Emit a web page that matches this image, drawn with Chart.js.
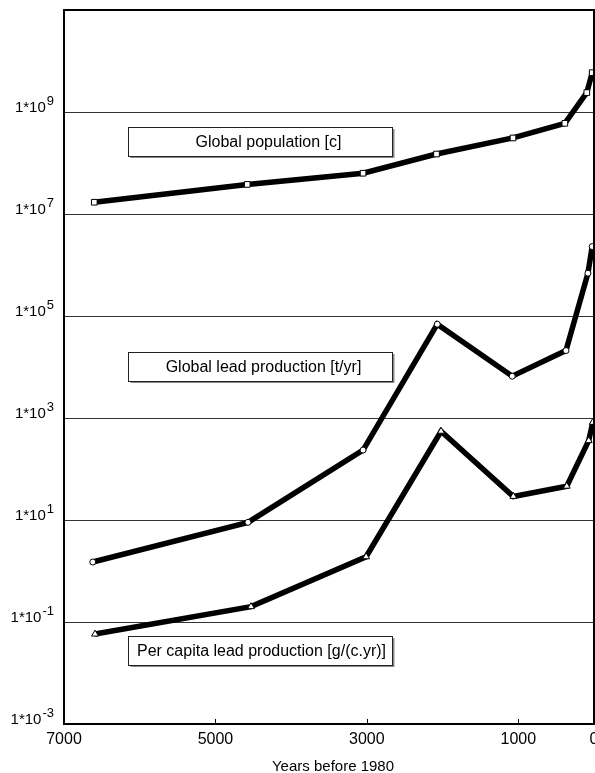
<!DOCTYPE html>
<html>
<head>
<meta charset="utf-8">
<script src="https://cdn.jsdelivr.net/npm/chart.js@4/dist/chart.umd.min.js"></script>
<style>
  html, body { margin: 0; padding: 0; background: #fff; }
  #wrap { width: 595px; height: 773px; }
</style>
</head>
<body>
<div id="wrap"><canvas id="c" width="595" height="773"></canvas></div>
<script>
// ---- data ----
const popYears    = [6600, 4580, 3050, 2080, 1070, 385, 95, 24];
const popValues   = [1.7e7, 3.8e7, 6.3e7, 1.5e8, 3.1e8, 6.0e8, 2.4e9, 5.9e9];

const leadYears   = [6620, 4570, 3050, 2070, 1080, 370, 80, 24];
const leadValues  = [1.5, 9, 235, 6.9e4, 6.6e3, 2.1e4, 6.9e5, 2.3e6];

const capitaYears  = [6590, 4530, 3010, 2020, 1065, 360, 70, 16];
const capitaValues = [0.058, 0.2, 1.9, 550, 29, 46, 360, 820];

const xTickValues = [7000, 5000, 3000, 1000, 0];
const yTickExponents = [-3, -1, 1, 3, 5, 7, 9];
const yGridExponents = [-1, 1, 3, 5, 7, 9];

const labelPop    = 'Global population [c]';
const labelLead   = 'Global lead production [t/yr]';
const labelCapita = 'Per capita lead production [g/(c.yr)]';
const xTitle      = 'Years before 1980';

// ---- build ----
function pts(xs, ys) { return xs.map((x, i) => ({ x: x, y: ys[i] })); }

const FONT = '"Liberation Sans", Arial, sans-serif';

function ds(label, xs, ys, style, radius) {
  return {
    label: label,
    data: pts(xs, ys),
    borderColor: '#000',
    borderWidth: 5.5,
    tension: 0,
    pointStyle: style,
    pointRadius: radius,
    pointBackgroundColor: '#fff',
    pointBorderColor: '#000',
    pointBorderWidth: 1,
    clip: false
  };
}

function noPad(s) {
  s.paddingLeft = 0; s.paddingRight = 0; s.paddingTop = 0; s.paddingBottom = 0;
}

const decor = {
  id: 'decor',
  afterDraw(chart) {
    const ctx = chart.ctx;
    const a = chart.chartArea;
    const xs = chart.scales.x, ys = chart.scales.y;
    ctx.save();
    // frame
    ctx.strokeStyle = '#000';
    ctx.lineWidth = 2;
    ctx.strokeRect(a.left, a.top, a.right - a.left, a.bottom - a.top);
    // x tick marks (inside) and labels
    ctx.lineWidth = 1;
    ctx.fillStyle = '#000';
    ctx.font = '16px ' + FONT;
    ctx.textAlign = 'center';
    ctx.textBaseline = 'middle';
    xTickValues.forEach(v => {
      const px = xs.getPixelForValue(v);
      if (v !== 7000 && v !== 0) {
        ctx.beginPath();
        ctx.moveTo(Math.round(px) + 0.5, a.bottom);
        ctx.lineTo(Math.round(px) + 0.5, a.bottom - 5);
        ctx.stroke();
      }
      ctx.fillText(String(v), px, a.bottom + 16);
    });
    // x title
    ctx.font = '15px ' + FONT;
    ctx.fillText(xTitle, 333, 767);
    // y labels 1*10^n
    ctx.textAlign = 'left';
    ctx.textBaseline = 'alphabetic';
    yTickExponents.forEach(e => {
      const py = ys.getPixelForValue(Math.pow(10, e));
      const base = '1*10';
      const sup = String(e);
      ctx.font = '15px ' + FONT;
      const wb = ctx.measureText(base).width;
      ctx.font = '13px ' + FONT;
      const ws = ctx.measureText(sup).width;
      const right = 54;
      const x0 = right - ws - wb - 1;
      ctx.font = '15px ' + FONT;
      ctx.fillText(base, x0, py);
      ctx.font = '13px ' + FONT;
      ctx.fillText(sup, x0 + wb + 1, py - 7);
    });
    // label boxes
    const boxes = [
      { text: labelPop,    top: 127, dx: 8 },
      { text: labelLead,   top: 352, dx: 3 },
      { text: labelCapita, top: 636, dx: 1 }
    ];
    boxes.forEach(b => {
      const l = 128.5, w = 264, h = 29;
      ctx.fillStyle = '#8a8a8a';
      ctx.fillRect(l + 2, b.top + 2, w, h);
      ctx.fillStyle = '#fff';
      ctx.fillRect(l, b.top, w, h);
      ctx.strokeStyle = '#222';
      ctx.lineWidth = 1;
      ctx.strokeRect(l, b.top + 0.5, w, h);
      ctx.fillStyle = '#000';
      ctx.font = '16px ' + FONT;
      ctx.textAlign = 'center';
      ctx.textBaseline = 'middle';
      ctx.fillText(b.text, l + w / 2 + b.dx, b.top + h / 2 + 1);
    });
    ctx.restore();
  }
};

new Chart(document.getElementById('c'), {
  type: 'line',
  data: {
    datasets: [
      ds(labelPop, popYears, popValues, 'rect', 4),
      ds(labelLead, leadYears, leadValues, 'circle', 3),
      ds(labelCapita, capitaYears, capitaValues, 'triangle', 4)
    ]
  },
  options: {
    responsive: false,
    animation: false,
    devicePixelRatio: 1,
    layout: { autoPadding: false, padding: { top: 10, right: 1, left: 0, bottom: 0 } },
    plugins: { legend: { display: false }, tooltip: { enabled: false } },
    scales: {
      x: {
        type: 'linear',
        reverse: true,
        min: 0,
        max: 7000,
        afterBuildTicks: s => { s.ticks = xTickValues.map(v => ({ value: v })); },
        afterFit: s => { s.height = 49; noPad(s); },
        ticks: { display: false },
        grid: { display: false },
        border: { display: false }
      },
      y: {
        type: 'logarithmic',
        min: 1e-3,
        max: 1e11,
        afterBuildTicks: s => { s.ticks = yGridExponents.map(e => ({ value: Math.pow(10, e) })); },
        afterFit: s => { s.width = 64; noPad(s); },
        ticks: { display: false },
        grid: { color: '#333', lineWidth: 1, drawTicks: false },
        border: { display: false }
      }
    }
  },
  plugins: [decor]
});
</script>
</body>
</html>
